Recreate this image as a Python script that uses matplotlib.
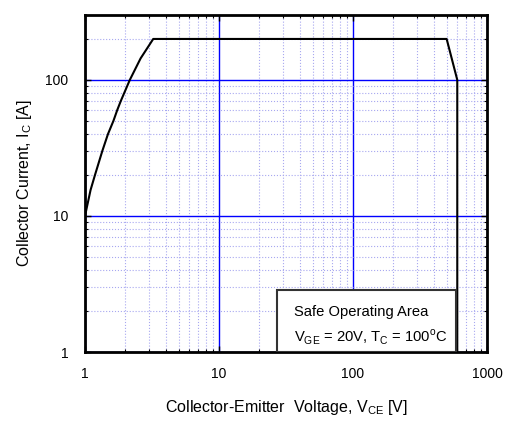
import matplotlib.pyplot as plt
from matplotlib.ticker import FixedLocator, FixedFormatter, LogLocator, NullFormatter
from matplotlib.patches import Rectangle

plt.rcParams['font.family'] = ['Liberation Sans', 'DejaVu Sans']

# Safe operating area boundary
vce = [1.0, 1.10, 1.187, 1.346, 1.484, 1.63, 1.74, 1.85, 2.16, 2.60, 3.23, 500, 600, 600]
ic = [10.0, 15.5, 20, 30, 40, 50, 60, 70, 100, 144, 200, 200, 100, 1]

x_ticks = [1, 10, 100, 1000]
y_ticks = [1, 10, 100]

fig = plt.figure(figsize=(5.09, 4.24), dpi=100)
ax = fig.add_axes([85 / 509, 1 - 352 / 424, 402 / 509, 337 / 424])

ax.plot(vce, ic, color='black', lw=1.5, zorder=3)

ax.set_xscale('log')
ax.set_yscale('log')
ax.set_xlim(1, 1000)
ax.set_ylim(1, 300)

ax.xaxis.set_major_locator(FixedLocator(x_ticks))
ax.xaxis.set_major_formatter(FixedFormatter([str(t) for t in x_ticks]))
ax.yaxis.set_major_locator(FixedLocator(y_ticks))
ax.yaxis.set_major_formatter(FixedFormatter([str(t) for t in y_ticks]))
ax.xaxis.set_minor_locator(LogLocator(base=10, subs=range(2, 10)))
ax.yaxis.set_minor_locator(LogLocator(base=10, subs=range(2, 10)))
ax.xaxis.set_minor_formatter(NullFormatter())
ax.yaxis.set_minor_formatter(NullFormatter())

ax.grid(which='major', color='#0000ff', lw=1.0, ls='-')
ax.grid(which='minor', color='#a8a8f0', lw=0.8, ls=':')
ax.set_axisbelow(True)

ax.tick_params(which='both', direction='in', top=True, right=True, labelsize=10)
ax.tick_params(axis='x', pad=11)
ax.tick_params(axis='y', pad=12)
ax.tick_params(which='major', length=4, width=1)
ax.tick_params(which='minor', length=2.5, width=0.8)
for s in ax.spines.values():
    s.set_linewidth(2)

ax.set_xlabel('Collector-Emitter  Voltage, V$_{\\mathregular{CE}}$ [V]', fontsize=11.5, labelpad=12)
ax.set_ylabel('Collector Current, I$_{\\mathregular{C}}$ [A]', fontsize=11.5, labelpad=8)

# annotation box
box = Rectangle((0.478, 0.0), 0.445, 0.184, transform=ax.transAxes,
                facecolor='white', edgecolor='#333333', lw=1.5, zorder=4)
ax.add_patch(box)
ax.text(0.52, 0.12, 'Safe Operating Area', transform=ax.transAxes,
        fontsize=10.6, va='center', zorder=5)
ax.text(0.52, 0.045, 'V$_{\\mathregular{GE}}$ = 20V, T$_{\\mathregular{C}}$ = 100$^{\\mathregular{o}}$C',
        transform=ax.transAxes, fontsize=10.6, va='center', zorder=5)

plt.savefig('out.png', dpi=100)
